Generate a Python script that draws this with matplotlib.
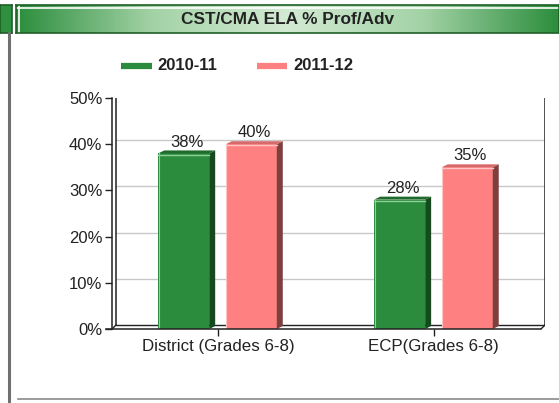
import matplotlib.pyplot as plt
import numpy as np
from matplotlib.patches import Polygon
from matplotlib.colors import LinearSegmentedColormap

plt.rcParams['font.family'] = ['Liberation Sans', 'DejaVu Sans']

# data
categories = ['District (Grades 6-8)', 'ECP(Grades 6-8)']
series_names = ['2010-11', '2011-12']
values_2010 = [38, 28]
values_2011 = [40, 35]
yticks = [0, 10, 20, 30, 40, 50]
title = 'CST/CMA ELA % Prof/Adv'

W, H = 559, 403
fig = plt.figure(figsize=(W / 100, H / 100), dpi=100)
fig.patch.set_facecolor('white')

# ---- header bar with gradient ----
hdr = fig.add_axes([16 / W, 1 - 33 / H, 543 / W, 28 / H])
t = np.linspace(0, 1, 256)
g = np.abs(t - 0.5) * 2
cmap = LinearSegmentedColormap.from_list('hdr', ['#d2ead2', '#a3d2a6', '#2c8e3d'])
hdr.imshow(g[np.newaxis, :], aspect='auto', cmap=cmap, extent=[0, 1, 0, 1])
hdr.set_xlim(0, 1)
hdr.set_ylim(0, 1)
hdr.axhline(0.88, color='white', lw=1.2)
hdr.axvline(0.006, color='white', lw=1.2)
for s in hdr.spines.values():
    s.set_color('#1f5f28')
    s.set_linewidth(1.2)
hdr.set_xticks([])
hdr.set_yticks([])
hdr.text(0.5, 0.5, title, ha='center', va='center', fontsize=12.4,
         fontweight='bold', color='#222222')

# small left block
lb = fig.add_axes([0, 1 - 33 / H, 12 / W, 28 / H])
lb.set_facecolor('#2f9140')
lb.set_xticks([])
lb.set_yticks([])
for s in lb.spines.values():
    s.set_color('#1f5f28')
    s.set_linewidth(1.2)

# outer frame lines
fig.add_artist(plt.Line2D([9 / W, 9 / W], [0, 1 - 33 / H], color='#707070', lw=2.2,
                          transform=fig.transFigure))
fig.add_artist(plt.Line2D([18 / W, 1], [1 - 399 / H, 1 - 399 / H], color='#8a8a8a', lw=1.2,
                          transform=fig.transFigure))

# ---- main chart ----
left_px, right_px, top_px, bot_px = 112, 545, 98, 329
ax = fig.add_axes([left_px / W, 1 - bot_px / H, (right_px - left_px) / W, (bot_px - top_px) / H])
ax.set_xlim(-0.49, 1.515)
ax.set_ylim(0, 50)
ax.patch.set_alpha(0)
for s in ax.spines.values():
    s.set_visible(False)

px_x = (1.515 + 0.49) / (right_px - left_px)
px_y = 50 / (bot_px - top_px)
dx = 4 * px_x
dy = 4 * px_y
x0 = -0.49
x1 = 1.515 - dx

# back wall, gridlines, floor
for v in yticks[1:-1]:
    ax.plot([x0 + dx, x1 + dx], [v + dy, v + dy], color='#c8c8c8', lw=1.0, zorder=1)
ax.plot([x0 + dx, x0 + dx, x1 + dx, x1 + dx], [dy, 50 + dy, 50 + dy, dy], color='#222222', lw=1.1, zorder=2)
ax.plot([x0 + dx, x1 + dx], [dy, dy], color='#222222', lw=1.0, zorder=2)
ax.plot([x1, x1 + dx], [0, dy], color='#222222', lw=1.0, zorder=2)
ax.plot([x0, x0 + dx], [0, dy], color='#222222', lw=1.0, zorder=2)
ax.plot([x0 - 6 * px_x, x1], [0, 0], color='#222222', lw=1.1, zorder=6, clip_on=False)
ax.plot([x0, x0], [0, 50], color='#222222', lw=1.1, zorder=6, clip_on=False)

ax.set_xticks([0, 1])
ax.set_xticklabels(categories, fontsize=12.2, color='#222222')
ax.tick_params(axis='x', length=5, width=1, color='#222222', pad=2, direction='out')
ax.set_yticks(yticks)
ax.set_yticklabels([f'{v}%' for v in yticks], fontsize=12, color='#222222')
ax.tick_params(axis='y', length=5, width=1, color='#222222', pad=2)

bw = 0.236
offs = [-0.158, 0.155]
face = ['#2a8c3c', '#ff8080']
side = ['#17491e', '#7e3f3f']
topc = ['#1f6a2c', '#d66a6a']
hl = ['#8fd09a', '#ffc4c4']
depth_x = 6 * px_x
depth_y = 3 * px_y

for k, vals in enumerate([values_2010, values_2011]):
    xs = np.arange(len(categories)) + offs[k]
    ax.bar(xs, vals, width=bw, color=face[k], zorder=4, linewidth=0)
    for xc, v in zip(xs, vals):
        l, r = xc - bw / 2, xc + bw / 2
        ax.add_patch(Polygon([[r, 0], [r + depth_x, depth_y], [r + depth_x, v + depth_y], [r, v]],
                             closed=True, facecolor=side[k], edgecolor='none', zorder=4))
        ax.add_patch(Polygon([[l, v], [l + depth_x, v + depth_y], [r + depth_x, v + depth_y], [r, v]],
                             closed=True, facecolor=topc[k], edgecolor='none', zorder=4))
        ax.plot([l, r], [v - 0.25, v - 0.25], color=hl[k], lw=1.0, zorder=5)
        ax.plot([l + 0.003, l + 0.003], [0, v], color=hl[k], lw=0.8, zorder=5)
        ax.text(xc + depth_x / 2, v + depth_y + 0.2, f'{v}%', ha='center', va='bottom',
                fontsize=12, color='#222222', zorder=6)

# legend
leg_y = 1 - 66 / H
swatches = [(121, 152, 157), (257, 287, 293)]
for k, (a, b, tx) in enumerate(swatches):
    fig.add_artist(plt.Line2D([a / W, b / W], [leg_y, leg_y], color=face[k], lw=4.5,
                              transform=fig.transFigure, solid_capstyle='butt'))
    fig.text(tx / W, leg_y, series_names[k], ha='left', va='center', fontsize=12,
             fontweight='bold', color='#222222')

fig.savefig('out.png', dpi=100)
